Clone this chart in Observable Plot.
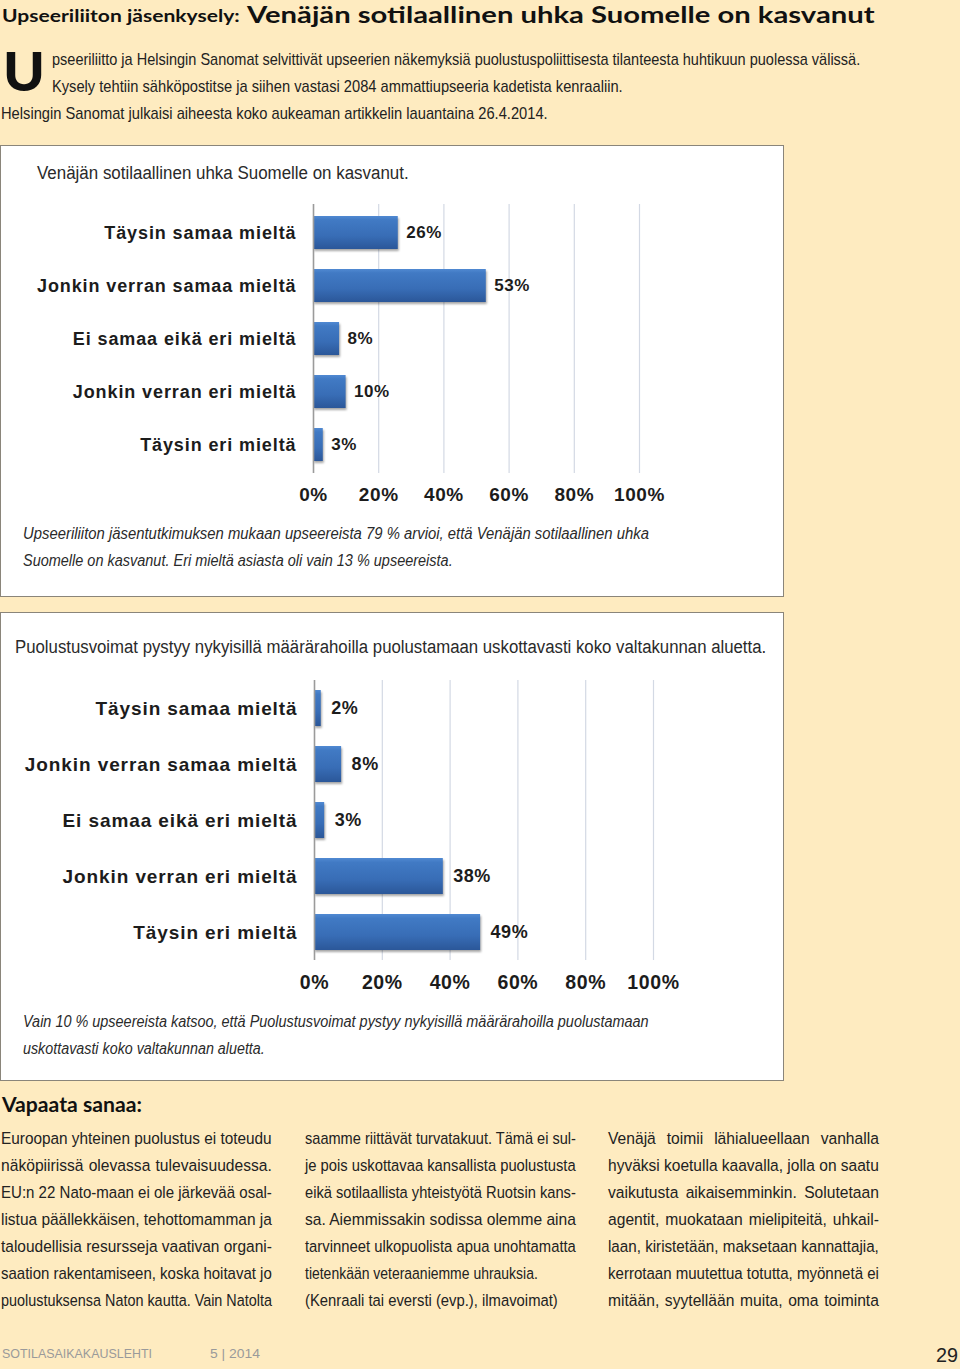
<!DOCTYPE html>
<html>
<head>
<meta charset="utf-8">
<script src="https://cdn.jsdelivr.net/npm/d3@7"></script>
<script src="https://cdn.jsdelivr.net/npm/@observablehq/plot@0.6"></script>
<style>
html, body { margin: 0; padding: 0; background: #feebc0; }
#page { position: relative; width: 960px; height: 1369px; background: #feebc0; overflow: hidden; }
.box { position: absolute; background: #ffffff; border: 1px solid #8a857a; box-sizing: border-box; }
.chart { position: absolute; left: 0; }
#overlay { position: absolute; left: 0; top: 0; pointer-events: none; }
.chart g[aria-label="bar"] { filter: drop-shadow(1px 2px 1.2px rgba(0,0,0,0.35)); }
</style>
</head>
<body>
<div id="page">
  <div class="box" style="left:0;top:145px;width:784px;height:452px"></div>
  <div class="box" style="left:0;top:612px;width:784px;height:469px"></div>
  <div id="chart1" class="chart" style="top:195px"></div>
  <div id="chart2" class="chart" style="top:670px"></div>
  <svg id="overlay" width="960" height="1369"></svg>
  <svg width="0" height="0" style="position:absolute;left:0;top:0">
    <defs>
      <linearGradient id="barGrad" x1="0" y1="0" x2="0" y2="1">
        <stop offset="0" stop-color="#5089d2"/>
        <stop offset="0.12" stop-color="#417ac4"/>
        <stop offset="0.6" stop-color="#386db6"/>
        <stop offset="1" stop-color="#2b5799"/>
      </linearGradient>
    </defs>
  </svg>
</div>
<script>
// ---- data ----
const categories = [
  "Täysin samaa mieltä",
  "Jonkin verran samaa mieltä",
  "Ei samaa eikä eri mieltä",
  "Jonkin verran eri mieltä",
  "Täysin eri mieltä"
];
const threatValues = [26, 53, 8, 10, 3];
const defenceValues = [2, 8, 3, 38, 49];
const xTicks = [0, 20, 40, 60, 80, 100];

function barChart(values, o) {
  const data = categories.map((c, i) => ({category: c, value: values[i]}));
  const svg = Plot.plot({
    width: 784,
    height: o.height,
    marginLeft: o.ml, marginRight: o.mr, marginTop: o.mt, marginBottom: o.mb,
    style: {background: "transparent", fontFamily: "'Liberation Sans', Arial, sans-serif", color: "#1c1c1c", overflow: "visible"},
    x: {domain: [0, 100]},
    y: {domain: categories, paddingInner: o.pad, paddingOuter: o.pad / 2},
    marks: [
      Plot.gridX(xTicks.slice(1), {stroke: "#d3d9e4", strokeOpacity: 1, strokeWidth: 1.2}),
      Plot.barX(data, {x: "value", y: "category", fill: "url(#barGrad)"}),
      Plot.ruleX([0], {stroke: "#9b9b9b", strokeWidth: 1.6}),
      Plot.text(data, {x: "value", y: "category", text: d => d.value + "%", textAnchor: "start", dx: o.dx,
        fontSize: o.vfs, fontWeight: "bold", fill: "#1c1c1c"}),
      Plot.axisX(xTicks, {tickSize: 0, tickPadding: o.xpad, tickFormat: d => d + "%", label: null,
        fontSize: o.xfs, fontWeight: "bold"}),
      Plot.axisY({tickSize: 0, tickPadding: 17, label: null, fontSize: o.yfs, fontWeight: "bold"})
    ]
  });
  const s = d3.select(svg);
  s.selectAll('g[aria-label="x-axis tick label"]').attr("font-size", o.xfs).attr("font-weight", "bold")
    .style("letter-spacing", "0.6px").attr("fill", "#1c1c1c");
  s.selectAll('g[aria-label="y-axis tick label"]').attr("font-size", o.yfs).attr("font-weight", "bold")
    .style("letter-spacing", o.yls + "px").attr("fill", "#1c1c1c");
  s.selectAll('g[aria-label="text"]').style("letter-spacing", "0.5px");
  return svg;
}

document.getElementById("chart1").append(barChart(threatValues, {
  height: 320, ml: 313, mr: 145, mt: 9, mb: 42, pad: 0.37, dx: 8, vfs: 17, xfs: 19, yfs: 18, yls: 0.9, xpad: 14
}));
document.getElementById("chart2").append(barChart(defenceValues, {
  height: 340, ml: 314, mr: 131, mt: 10, mb: 50, pad: 0.36, dx: 10, vfs: 18, xfs: 19.5, yfs: 19, yls: 0.9, xpad: 15
}));

// ---- page text ----
const BODY = "'Liberation Sans', Arial, sans-serif";
const HEAD = "Lato, 'Open Sans', sans-serif";
const ov = d3.select("#overlay");

// Draw one line of text whose left edge is x0 and right edge x1 (baseline y).
// Condensed look via a horizontal scale; justified lines get extra word spacing
// when the scale would otherwise stretch too far.
function txt(str, x0, x1, y, o = {}) {
  const t = ov.append("text").text(str)
    .attr("x", 0).attr("y", 0)
    .attr("font-family", o.family || BODY)
    .attr("font-size", o.size || 16)
    .attr("font-weight", o.weight || "normal")
    .attr("font-style", o.style || "normal")
    .attr("fill", o.fill || "#222");
  const w = x1 - x0;
  const natural = t.node().getComputedTextLength();
  const spaces = (str.match(/ /g) || []).length;
  let sx = w / natural;
  if (o.justify && o.maxSx && sx > o.maxSx && spaces > 0) {
    sx = o.maxSx;
    t.attr("word-spacing", (w / sx - natural) / spaces);
  }
  t.attr("transform", `translate(${x0},${y}) scale(${sx},1)`);
  return t;
}

// header
txt("Upseeriliiton jäsenkysely:", 2, 240, 22, {family: HEAD, size: 18, weight: "bold", fill: "#111"});
txt("Venäjän sotilaallinen uhka Suomelle on kasvanut", 247, 875, 22.5, {family: HEAD, size: 22.5, weight: "bold", fill: "#111"});

// intro
txt("U", 3, 45, 91, {family: HEAD, size: 54, weight: "900", fill: "#111"});
txt("pseeriliitto ja Helsingin Sanomat selvittivät upseerien näkemyksiä puolustuspoliittisesta tilanteesta huhtikuun puolessa välissä.", 52, 861, 65, {size: 16});
txt("Kysely tehtiin sähköpostitse ja siihen vastasi 2084 ammattiupseeria kadetista kenraaliin.", 52, 623, 92, {size: 16});
txt("Helsingin Sanomat julkaisi aiheesta koko aukeaman artikkelin lauantaina 26.4.2014.", 1, 548, 119, {size: 16});

// chart 1 title & caption
txt("Venäjän sotilaallinen uhka Suomelle on kasvanut.", 37, 409, 179, {size: 19, fill: "#2a2a2a"});
txt("Upseeriliiton jäsentutkimuksen mukaan upseereista 79 % arvioi, että Venäjän sotilaallinen uhka", 23, 649, 539, {size: 17, style: "italic", fill: "#2a2a2a"});
txt("Suomelle on kasvanut. Eri mieltä asiasta oli vain 13 % upseereista.", 23, 453, 566, {size: 17, style: "italic", fill: "#2a2a2a"});

// chart 2 title & caption
txt("Puolustusvoimat pystyy nykyisillä määrärahoilla puolustamaan uskottavasti koko valtakunnan aluetta.", 15, 767, 653, {size: 19, fill: "#2a2a2a"});
txt("Vain 10 % upseereista katsoo, että Puolustusvoimat pystyy nykyisillä määrärahoilla puolustamaan", 23, 649, 1027, {size: 17, style: "italic", fill: "#2a2a2a"});
txt("uskottavasti koko valtakunnan aluetta.", 23, 265, 1054, {size: 17, style: "italic", fill: "#2a2a2a"});

// Vapaata sanaa
txt("Vapaata sanaa:", 2, 142, 1112, {family: HEAD, size: 20, weight: "bold", fill: "#111"});

const col1 = [
  "Euroopan yhteinen puolustus ei toteudu",
  "näköpiirissä olevassa tulevaisuudessa.",
  "EU:n 22 Nato-maan ei ole järkevää osal-",
  "listua päällekkäisen, tehottomamman ja",
  "taloudellisia resursseja vaativan organi-",
  "saation rakentamiseen, koska hoitavat jo",
  "puolustuksensa Naton kautta. Vain Natolta"
];
const col2 = [
  "saamme riittävät turvatakuut. Tämä ei sul-",
  "je pois uskottavaa kansallista puolustusta",
  "eikä sotilaallista yhteistyötä Ruotsin kans-",
  "sa. Aiemmissakin sodissa olemme aina",
  "tarvinneet ulkopuolista apua unohtamatta",
  "tietenkään veteraaniemme uhrauksia.",
  "(Kenraali tai eversti (evp.), ilmavoimat)"
];
const col3 = [
  "Venäjä toimii lähialueellaan vanhalla",
  "hyväksi koetulla kaavalla, jolla on saatu",
  "vaikutusta aikaisemminkin. Solutetaan",
  "agentit, muokataan mielipiteitä, uhkail-",
  "laan, kiristetään, maksetaan kannattajia,",
  "kerrotaan muutettua totutta, myönnetä ei",
  "mitään, syytellään muita, oma toiminta"
];
const col2Ends = [576, 576, 576, 576, 576, 538, 558];
const maxSx = 0.92;
col1.forEach((l, i) => txt(l, 1, 272, 1144 + i * 27, {size: 17, justify: true, maxSx}));
col2.forEach((l, i) => txt(l, 305, col2Ends[i], 1144 + i * 27, {size: 17, justify: i < 5, maxSx}));
col3.forEach((l, i) => txt(l, 608, 879, 1144 + i * 27, {size: 17, justify: true, maxSx}));

// footer
txt("SOTILASAIKAKAUSLEHTI", 2, 152, 1358, {size: 13, fill: "#9a9a9a"});
txt("5 | 2014", 210, 260, 1358, {size: 13, fill: "#9a9a9a"});
txt("29", 936, 958, 1362, {size: 21, fill: "#222"});
</script>
</body>
</html>
